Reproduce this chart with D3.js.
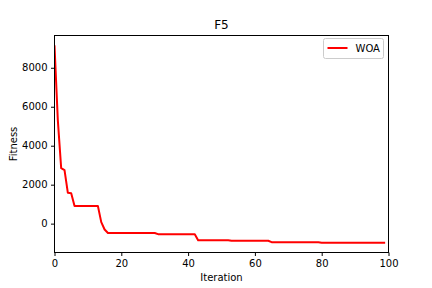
<!DOCTYPE html>
<html>
<head>
<meta charset="utf-8">
<script src="https://cdn.jsdelivr.net/npm/d3@7"></script>
<style>
  body { margin: 0; background: #fff; }
  text { font-family: "DejaVu Sans", sans-serif; }
</style>
</head>
<body>
<svg id="chart" width="432" height="288"></svg>
<script>
// WOA convergence curve, fitness per iteration
var fitness = [
  9150, 5300, 2850, 2750, 1580, 1560,
  900, 900, 900, 900, 900, 900, 900, 900,
  80, -300,
  -480, -480, -480, -480, -480, -480, -480, -480, -480, -480, -480, -480, -480, -480, -480,
  -540, -540, -540, -540, -540, -540, -540, -540, -540, -540, -540, -540,
  -850, -850, -850, -850, -850, -850, -850, -850, -850, -850,
  -880, -880, -880, -880, -880, -880, -880, -880, -880, -880, -880, -880,
  -950, -950, -950, -950, -950, -950, -950, -950, -950, -950, -950, -950, -950, -950, -950,
  -975, -975, -975, -975, -975, -975, -975, -975, -975, -975, -975, -975, -975, -975, -975, -975, -975, -975, -975, -975
];
var xTicks = [0, 20, 40, 60, 80, 100];
var yTicks = [0, 2000, 4000, 6000, 8000];
var seriesName = 'WOA';
var title = 'F5';

var m = {left: 54.5, right: 388.5, top: 35.5, bottom: 252.5};
var svg = d3.select('#chart');

var lo = d3.min(fitness), hi = d3.max(fitness), pad = (hi - lo) * 0.05;
var x = d3.scaleLinear().domain([0, 100]).range([m.left, m.right]);
var y = d3.scaleLinear().domain([lo - pad, hi + pad]).range([m.bottom, m.top]);

svg.append('clipPath').attr('id', 'clip')
  .append('rect')
  .attr('x', m.left).attr('y', m.top)
  .attr('width', m.right - m.left).attr('height', m.bottom - m.top);

svg.append('path')
  .datum(fitness)
  .attr('clip-path', 'url(#clip)')
  .attr('fill', 'none')
  .attr('stroke', '#ff0000')
  .attr('stroke-width', 2)
  .attr('stroke-linejoin', 'round')
  .attr('d', d3.line().x(function (d, i) { return x(i); }).y(function (d) { return y(d); }));

var xAxis = svg.append('g')
  .attr('transform', 'translate(0,' + m.bottom + ')')
  .call(d3.axisBottom(x).tickValues(xTicks).tickSize(3.5).tickPadding(3.5).tickFormat(d3.format('d')));
var yAxis = svg.append('g')
  .attr('transform', 'translate(' + m.left + ',0)')
  .call(d3.axisLeft(y).tickValues(yTicks).tickSize(3.5).tickPadding(3.5).tickFormat(d3.format('d')));

[xAxis, yAxis].forEach(function (g) {
  g.select('.domain').remove();
  g.selectAll('line').attr('stroke', '#000').attr('stroke-width', 1);
  g.selectAll('text').attr('font-size', 10).attr('fill', '#000')
    .style('font-family', '"DejaVu Sans", sans-serif');
});

// frame
svg.append('rect')
  .attr('x', m.left).attr('y', m.top)
  .attr('width', m.right - m.left).attr('height', m.bottom - m.top)
  .attr('fill', 'none').attr('stroke', '#000').attr('stroke-width', 1);

svg.append('text')
  .attr('x', (m.left + m.right) / 2).attr('y', 29)
  .attr('text-anchor', 'middle').attr('font-size', 12)
  .text(title);

svg.append('text')
  .attr('x', (m.left + m.right) / 2).attr('y', 281)
  .attr('text-anchor', 'middle').attr('font-size', 10)
  .text('Iteration');

svg.append('text')
  .attr('transform', 'translate(17,' + (m.top + m.bottom) / 2 + ') rotate(-90)')
  .attr('text-anchor', 'middle').attr('font-size', 10)
  .text('Fitness');

// legend
var lg = svg.append('g').attr('transform', 'translate(323.5,38.5)');
lg.append('rect')
  .attr('width', 60).attr('height', 20).attr('rx', 2)
  .attr('fill', '#fff').attr('fill-opacity', 0.8)
  .attr('stroke', '#ccc').attr('stroke-width', 1);
lg.append('line')
  .attr('x1', 4).attr('x2', 24).attr('y1', 9.5).attr('y2', 9.5)
  .attr('stroke', '#ff0000').attr('stroke-width', 2);
lg.append('text')
  .attr('x', 32).attr('y', 13.5).attr('font-size', 10)
  .text(seriesName);
</script>
</body>
</html>
